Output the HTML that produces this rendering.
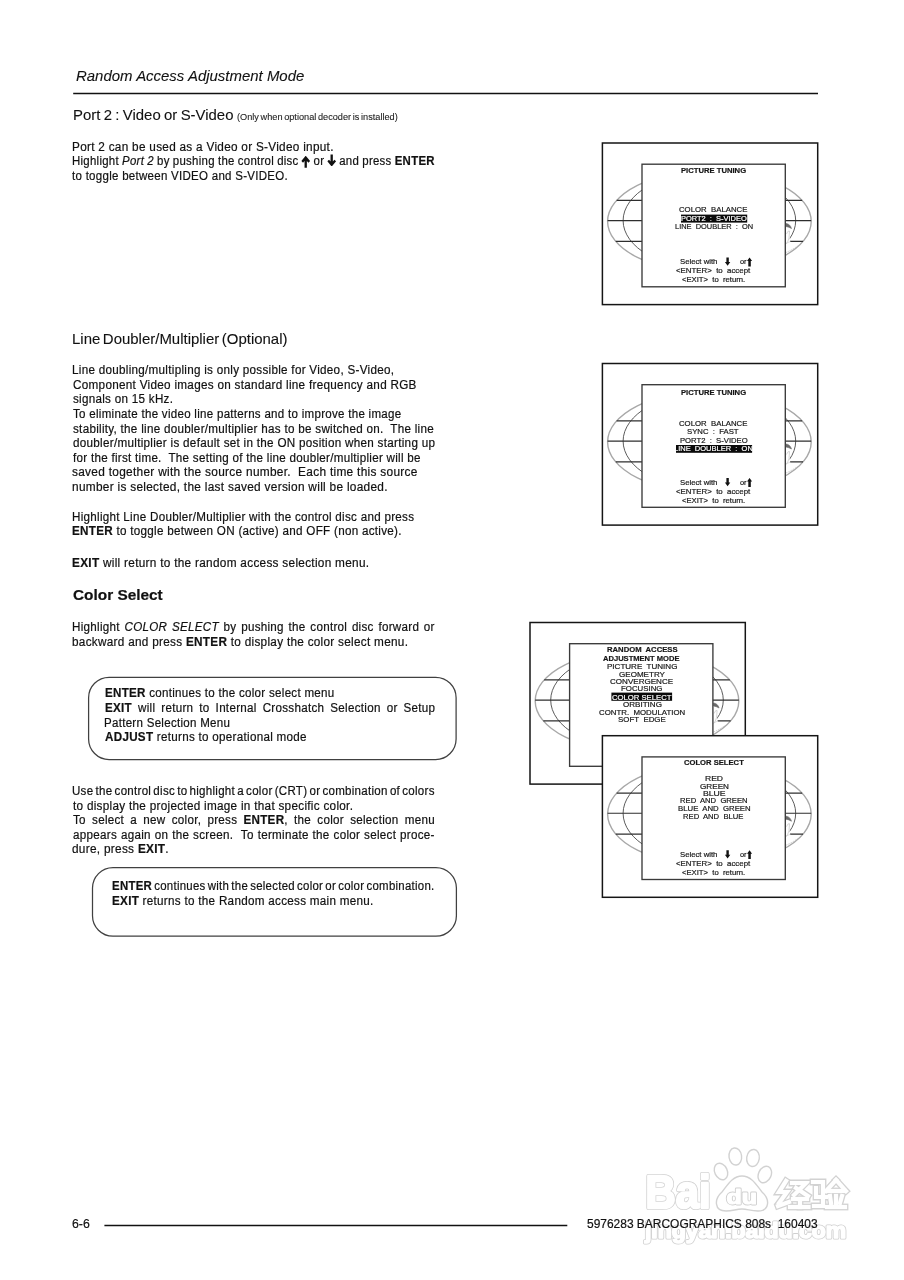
<!DOCTYPE html><html><head><meta charset="utf-8"><style>
html,body{margin:0;padding:0;background:#fff;}
body{width:904px;height:1280px;position:relative;overflow:hidden;font-family:"Liberation Sans",sans-serif;color:#111;}
.t{position:absolute;white-space:nowrap;line-height:1;transform-origin:0 0;-webkit-text-stroke-width:0.2px;}
.t b{font-weight:bold;}
.t i{font-style:italic;}
.ab{display:inline-block;width:9.3px;height:0;position:relative;}
svg.main{position:absolute;left:0;top:0;}
</style></head><body>
<svg class="main" width="904" height="1280">
<defs><filter id="wb" x="-5%" y="-5%" width="110%" height="110%"><feGaussianBlur stdDeviation="0.45"/></filter></defs><g filter="url(#wb)"><text x="645.5" y="1207.8" font-family="Liberation Sans" font-weight="bold" font-size="46" fill="#fff" stroke="#d0d0d0" stroke-width="4.2" stroke-linejoin="round" textLength="65" lengthAdjust="spacingAndGlyphs">Bai</text><text x="645.5" y="1207.8" font-family="Liberation Sans" font-weight="bold" font-size="46" fill="#fff" stroke="#fff" stroke-width="2.6" stroke-linejoin="round" textLength="65" lengthAdjust="spacingAndGlyphs">Bai</text>
<ellipse cx="721" cy="1171.5" rx="6.3" ry="8.6" transform="rotate(-25 721 1171.5)" fill="#fff" stroke="#d2d2d2" stroke-width="1.4" stroke-linejoin="round"/>
<ellipse cx="735.3" cy="1156.5" rx="6.3" ry="8.6" transform="rotate(-8 735.3 1156.5)" fill="#fff" stroke="#d2d2d2" stroke-width="1.4" stroke-linejoin="round"/>
<ellipse cx="753" cy="1158" rx="6.3" ry="8.6" transform="rotate(8 753 1158)" fill="#fff" stroke="#d2d2d2" stroke-width="1.4" stroke-linejoin="round"/>
<ellipse cx="764.8" cy="1174.5" rx="6.3" ry="8.6" transform="rotate(25 764.8 1174.5)" fill="#fff" stroke="#d2d2d2" stroke-width="1.4" stroke-linejoin="round"/>
<path d="M742,1176 C752,1176 757,1186 762,1192 C770,1199 770,1211 758,1211 C750,1211 748,1209 742,1209 C736,1209 733,1211 726,1211 C714,1211 714,1199 722,1192 C727,1186 732,1176 742,1176 Z" fill="#fff" stroke="#d2d2d2" stroke-width="1.4" stroke-linejoin="round"/>
<text x="726.5" y="1204" font-family="Liberation Sans" font-weight="bold" font-size="21" fill="#fff" stroke="#d0d0d0" stroke-width="2.8" stroke-linejoin="round" textLength="30.5" lengthAdjust="spacingAndGlyphs">du</text><text x="726.5" y="1204" font-family="Liberation Sans" font-weight="bold" font-size="21" fill="#fff" stroke="#fff" stroke-width="1.2" stroke-linejoin="round" textLength="30.5" lengthAdjust="spacingAndGlyphs">du</text>
<path d="M786,1181 L779,1192 L787,1192 L779,1203" fill="none" stroke="#d2d2d2" stroke-width="6.800000000000001" stroke-linecap="square" stroke-linejoin="miter"/>
<path d="M778,1206 L789,1202" fill="none" stroke="#d2d2d2" stroke-width="6.800000000000001" stroke-linecap="square" stroke-linejoin="miter"/>
<path d="M792,1183 L806,1183 L794,1195" fill="none" stroke="#d2d2d2" stroke-width="6.800000000000001" stroke-linecap="square" stroke-linejoin="miter"/>
<path d="M796,1188 L808,1196" fill="none" stroke="#d2d2d2" stroke-width="6.800000000000001" stroke-linecap="square" stroke-linejoin="miter"/>
<path d="M793,1199 L807,1199" fill="none" stroke="#d2d2d2" stroke-width="6.800000000000001" stroke-linecap="square" stroke-linejoin="miter"/>
<path d="M800,1199 L800,1207" fill="none" stroke="#d2d2d2" stroke-width="6.800000000000001" stroke-linecap="square" stroke-linejoin="miter"/>
<path d="M790,1207 L809,1207" fill="none" stroke="#d2d2d2" stroke-width="6.800000000000001" stroke-linecap="square" stroke-linejoin="miter"/>
<path d="M786,1181 L779,1192 L787,1192 L779,1203" fill="none" stroke="#fff" stroke-width="4.2" stroke-linecap="square" stroke-linejoin="miter"/>
<path d="M778,1206 L789,1202" fill="none" stroke="#fff" stroke-width="4.2" stroke-linecap="square" stroke-linejoin="miter"/>
<path d="M792,1183 L806,1183 L794,1195" fill="none" stroke="#fff" stroke-width="4.2" stroke-linecap="square" stroke-linejoin="miter"/>
<path d="M796,1188 L808,1196" fill="none" stroke="#fff" stroke-width="4.2" stroke-linecap="square" stroke-linejoin="miter"/>
<path d="M793,1199 L807,1199" fill="none" stroke="#fff" stroke-width="4.2" stroke-linecap="square" stroke-linejoin="miter"/>
<path d="M800,1199 L800,1207" fill="none" stroke="#fff" stroke-width="4.2" stroke-linecap="square" stroke-linejoin="miter"/>
<path d="M790,1207 L809,1207" fill="none" stroke="#fff" stroke-width="4.2" stroke-linecap="square" stroke-linejoin="miter"/>
<path d="M813,1182 L823,1182 L823,1206 L814,1206" fill="none" stroke="#d2d2d2" stroke-width="6.800000000000001" stroke-linecap="square" stroke-linejoin="miter"/>
<path d="M816,1188 L816,1197 L826,1197" fill="none" stroke="#d2d2d2" stroke-width="6.800000000000001" stroke-linecap="square" stroke-linejoin="miter"/>
<path d="M836,1180 L826,1191" fill="none" stroke="#d2d2d2" stroke-width="6.800000000000001" stroke-linecap="square" stroke-linejoin="miter"/>
<path d="M836,1180 L846,1191" fill="none" stroke="#d2d2d2" stroke-width="6.800000000000001" stroke-linecap="square" stroke-linejoin="miter"/>
<path d="M829,1191 L843,1191" fill="none" stroke="#d2d2d2" stroke-width="6.800000000000001" stroke-linecap="square" stroke-linejoin="miter"/>
<path d="M830,1196 L831,1203" fill="none" stroke="#d2d2d2" stroke-width="6.800000000000001" stroke-linecap="square" stroke-linejoin="miter"/>
<path d="M836,1196 L836,1203" fill="none" stroke="#d2d2d2" stroke-width="6.800000000000001" stroke-linecap="square" stroke-linejoin="miter"/>
<path d="M842,1196 L840,1203" fill="none" stroke="#d2d2d2" stroke-width="6.800000000000001" stroke-linecap="square" stroke-linejoin="miter"/>
<path d="M827,1207 L845,1207" fill="none" stroke="#d2d2d2" stroke-width="6.800000000000001" stroke-linecap="square" stroke-linejoin="miter"/>
<path d="M813,1182 L823,1182 L823,1206 L814,1206" fill="none" stroke="#fff" stroke-width="4.2" stroke-linecap="square" stroke-linejoin="miter"/>
<path d="M816,1188 L816,1197 L826,1197" fill="none" stroke="#fff" stroke-width="4.2" stroke-linecap="square" stroke-linejoin="miter"/>
<path d="M836,1180 L826,1191" fill="none" stroke="#fff" stroke-width="4.2" stroke-linecap="square" stroke-linejoin="miter"/>
<path d="M836,1180 L846,1191" fill="none" stroke="#fff" stroke-width="4.2" stroke-linecap="square" stroke-linejoin="miter"/>
<path d="M829,1191 L843,1191" fill="none" stroke="#fff" stroke-width="4.2" stroke-linecap="square" stroke-linejoin="miter"/>
<path d="M830,1196 L831,1203" fill="none" stroke="#fff" stroke-width="4.2" stroke-linecap="square" stroke-linejoin="miter"/>
<path d="M836,1196 L836,1203" fill="none" stroke="#fff" stroke-width="4.2" stroke-linecap="square" stroke-linejoin="miter"/>
<path d="M842,1196 L840,1203" fill="none" stroke="#fff" stroke-width="4.2" stroke-linecap="square" stroke-linejoin="miter"/>
<path d="M827,1207 L845,1207" fill="none" stroke="#fff" stroke-width="4.2" stroke-linecap="square" stroke-linejoin="miter"/>
<text x="645" y="1237.5" font-family="Liberation Sans" font-weight="bold" font-size="22" fill="#fff" stroke="#d0d0d0" stroke-width="3.2" stroke-linejoin="round" textLength="201" lengthAdjust="spacingAndGlyphs">jingyan.baidu.com</text><text x="645" y="1237.5" font-family="Liberation Sans" font-weight="bold" font-size="22" fill="#fff" stroke="#fff" stroke-width="1.6" stroke-linejoin="round" textLength="201" lengthAdjust="spacingAndGlyphs">jingyan.baidu.com</text></g>
<line x1="73.2" y1="93.5" x2="818" y2="93.5" stroke="#111" stroke-width="1.6"/>
<line x1="104.4" y1="1225.6" x2="567.3" y2="1225.6" stroke="#111" stroke-width="1.5"/>
<rect x="88.6" y="677.3" width="367.5" height="82.2" rx="20.5" ry="20.5" fill="none" stroke="#404040" stroke-width="1.25"/>
<rect x="92.5" y="867.6" width="363.9" height="68.6" rx="20.5" ry="20.5" fill="none" stroke="#404040" stroke-width="1.25"/>
<rect x="602.4" y="143.0" width="215.30000000000007" height="161.60000000000002" fill="#fff" stroke="#151515" stroke-width="1.5"/>
<ellipse cx="709.4" cy="221.4" rx="101.8" ry="51" fill="none" stroke="#a8a8a8" stroke-width="1.4"/>
<ellipse cx="709.4" cy="220.6" rx="86.3" ry="49" fill="none" stroke="#4a4a4a" stroke-width="0.9"/>
<line x1="616.63" y1="200.4" x2="802.17" y2="200.4" stroke="#2e2e2e" stroke-width="1.1"/>
<line x1="607.61" y1="220.6" x2="811.19" y2="220.6" stroke="#2e2e2e" stroke-width="1.1"/>
<line x1="615.75" y1="241.4" x2="803.05" y2="241.4" stroke="#2e2e2e" stroke-width="1.1"/>
<path d="M785,222 L789,223 Q792,226 791.5,229 L790,232 Q789,237 790.2,242.2 L785,252 Z" fill="#fff" stroke="none"/>
<path d="M786,223.5 Q790,223.8 791.5,228.5 Q789,227 786,226.5 Z" fill="#6a6a6a" stroke="#6a6a6a" stroke-width="0.6"/>
<path d="M786.5,234 Q788,230 789.5,231 L789,238 Q788,242 786,244" fill="none" stroke="#c4c4c4" stroke-width="0.7"/>
<path d="M786,252.5 Q792,250 797.5,246" fill="none" stroke="#b8b8b8" stroke-width="0.7" stroke-dasharray="1.6 0.9"/>
<path d="M786,243.5 L790.5,241.4" fill="none" stroke="#c8c8c8" stroke-width="0.6"/>
<rect x="642.0" y="164.2" width="143.29999999999995" height="122.60000000000002" fill="#fff" stroke="#3a3a3a" stroke-width="1.35"/>
<rect x="602.4" y="363.5" width="215.30000000000007" height="161.60000000000002" fill="#fff" stroke="#151515" stroke-width="1.5"/>
<ellipse cx="709.4" cy="441.9" rx="101.8" ry="51" fill="none" stroke="#a8a8a8" stroke-width="1.4"/>
<ellipse cx="709.4" cy="441.09999999999997" rx="86.3" ry="49" fill="none" stroke="#4a4a4a" stroke-width="0.9"/>
<line x1="616.63" y1="420.9" x2="802.17" y2="420.9" stroke="#2e2e2e" stroke-width="1.1"/>
<line x1="607.61" y1="441.1" x2="811.19" y2="441.1" stroke="#2e2e2e" stroke-width="1.1"/>
<line x1="615.75" y1="461.9" x2="803.05" y2="461.9" stroke="#2e2e2e" stroke-width="1.1"/>
<path d="M785,442.5 L789,443.5 Q792,446.5 791.5,449.5 L790,452.5 Q789,457.5 790.2,462.7 L785,472.5 Z" fill="#fff" stroke="none"/>
<path d="M786,444.0 Q790,444.3 791.5,449.0 Q789,447.5 786,447.0 Z" fill="#6a6a6a" stroke="#6a6a6a" stroke-width="0.6"/>
<path d="M786.5,454.5 Q788,450.5 789.5,451.5 L789,458.5 Q788,462.5 786,464.5" fill="none" stroke="#c4c4c4" stroke-width="0.7"/>
<path d="M786,473.0 Q792,470.5 797.5,466.5" fill="none" stroke="#b8b8b8" stroke-width="0.7" stroke-dasharray="1.6 0.9"/>
<path d="M786,464.0 L790.5,461.9" fill="none" stroke="#c8c8c8" stroke-width="0.6"/>
<rect x="642.0" y="384.7" width="143.29999999999995" height="122.60000000000002" fill="#fff" stroke="#3a3a3a" stroke-width="1.35"/>
<rect x="530.0" y="622.5" width="215.30000000000007" height="161.60000000000002" fill="#fff" stroke="#151515" stroke-width="1.5"/>
<ellipse cx="637.0" cy="700.9" rx="101.8" ry="51" fill="none" stroke="#a8a8a8" stroke-width="1.4"/>
<ellipse cx="637.0" cy="700.1" rx="86.3" ry="49" fill="none" stroke="#4a4a4a" stroke-width="0.9"/>
<line x1="544.23" y1="679.9" x2="729.77" y2="679.9" stroke="#2e2e2e" stroke-width="1.1"/>
<line x1="535.21" y1="700.1" x2="738.79" y2="700.1" stroke="#2e2e2e" stroke-width="1.1"/>
<line x1="543.35" y1="720.9" x2="730.65" y2="720.9" stroke="#2e2e2e" stroke-width="1.1"/>
<path d="M712.6,701.5 L716.6,702.5 Q719.6,705.5 719.1,708.5 L717.6,711.5 Q716.6,716.5 717.8000000000001,721.7 L712.6,731.5 Z" fill="#fff" stroke="none"/>
<path d="M713.6,703.0 Q717.6,703.3 719.1,708.0 Q716.6,706.5 713.6,706.0 Z" fill="#6a6a6a" stroke="#6a6a6a" stroke-width="0.6"/>
<path d="M714.1,713.5 Q715.6,709.5 717.1,710.5 L716.6,717.5 Q715.6,721.5 713.6,723.5" fill="none" stroke="#c4c4c4" stroke-width="0.7"/>
<path d="M713.6,732.0 Q719.6,729.5 725.1,725.5" fill="none" stroke="#b8b8b8" stroke-width="0.7" stroke-dasharray="1.6 0.9"/>
<path d="M713.6,723.0 L718.1,720.9" fill="none" stroke="#c8c8c8" stroke-width="0.6"/>
<rect x="569.6" y="643.7" width="143.29999999999995" height="122.59999999999991" fill="#fff" stroke="#3a3a3a" stroke-width="1.35"/>
</svg>
<svg class="main" width="904" height="1280">
<rect x="681.0" y="214.6" width="66.20000000000005" height="8.0" fill="#0a0a0a"/>
<rect x="676.0" y="445.0" width="76.10000000000002" height="7.800000000000011" fill="#0a0a0a"/>
<rect x="611.4" y="692.6" width="60.700000000000045" height="8.199999999999932" fill="#0a0a0a"/>
<path d="M726.4,257.5 h2.4 v4.6 h1.5 l-2.7,3.6 l-2.7,-3.6 h1.5 z" fill="#111"/><path d="M748.3,266.4 h2.5 v-5.3 h1.3 l-2.55,-3.6 l-2.55,3.6 h1.3 z" fill="#111"/>
<path d="M726.4,478.0 h2.4 v4.6 h1.5 l-2.7,3.6 l-2.7,-3.6 h1.5 z" fill="#111"/><path d="M748.3,486.9 h2.5 v-5.3 h1.3 l-2.55,-3.6 l-2.55,3.6 h1.3 z" fill="#111"/>
</svg>
<div class="t" id="t35" style="left:681.20px;top:167.20px;font-size:7.8px;font-weight:bold;color:#161616;-webkit-text-stroke-width:0.2px;left:680.83px;transform:scaleX(0.9821);word-spacing:0.000px;">PICTURE TUNING</div>
<div class="t" id="t36" style="left:679.80px;top:206.33px;font-size:8.0px;color:#161616;-webkit-text-stroke-width:0.2px;left:679.35px;transform:scaleX(0.9728);word-spacing:0.000px;">COLOR&nbsp; BALANCE</div>
<div class="t" id="t37" style="left:681.60px;top:214.93px;font-size:8.0px;color:#fff;-webkit-text-stroke-width:0.2px;left:681.31px;transform:scaleX(0.9315);word-spacing:0.000px;">PORT2&nbsp; :&nbsp; S-VIDEO</div>
<div class="t" id="t38" style="left:674.90px;top:223.43px;font-size:8.0px;color:#161616;-webkit-text-stroke-width:0.2px;left:674.53px;transform:scaleX(0.9309);word-spacing:0.000px;">LINE&nbsp; DOUBLER&nbsp; :&nbsp; ON</div>
<div class="t" id="t39" style="left:680.20px;top:258.13px;font-size:8.0px;color:#161616;-webkit-text-stroke-width:0.2px;left:679.81px;transform:scaleX(0.9660);word-spacing:0.000px;">Select with</div>
<div class="t" id="t40" style="left:739.70px;top:258.13px;font-size:8.0px;color:#161616;-webkit-text-stroke-width:0.2px;left:739.69px;transform:scaleX(0.9238);word-spacing:0.000px;">or</div>
<div class="t" id="t41" style="left:676.40px;top:267.03px;font-size:8.0px;color:#161616;-webkit-text-stroke-width:0.2px;left:675.71px;transform:scaleX(0.9819);word-spacing:0.000px;">&lt;ENTER&gt;&nbsp; to&nbsp; accept</div>
<div class="t" id="t42" style="left:682.00px;top:276.13px;font-size:8.0px;color:#161616;-webkit-text-stroke-width:0.2px;left:681.88px;transform:scaleX(0.9595);word-spacing:0.000px;">&lt;EXIT&gt;&nbsp; to&nbsp; return.</div>
<div class="t" id="t43" style="left:681.20px;top:388.50px;font-size:7.8px;font-weight:bold;color:#161616;-webkit-text-stroke-width:0.2px;left:680.83px;transform:scaleX(0.9821);word-spacing:0.000px;">PICTURE TUNING</div>
<div class="t" id="t44" style="left:679.80px;top:420.13px;font-size:8.0px;color:#161616;-webkit-text-stroke-width:0.2px;left:679.35px;transform:scaleX(0.9728);word-spacing:0.000px;">COLOR&nbsp; BALANCE</div>
<div class="t" id="t45" style="left:687.90px;top:428.43px;font-size:8.0px;color:#161616;-webkit-text-stroke-width:0.2px;left:687.06px;transform:scaleX(0.9660);word-spacing:0.000px;">SYNC&nbsp; :&nbsp; FAST</div>
<div class="t" id="t46" style="left:680.10px;top:436.63px;font-size:8.0px;color:#161616;-webkit-text-stroke-width:0.2px;left:679.73px;transform:scaleX(0.9597);word-spacing:0.000px;">PORT2&nbsp; :&nbsp; S-VIDEO</div>
<div class="t" id="t47" style="left:674.50px;top:445.03px;font-size:8.0px;color:#fff;-webkit-text-stroke-width:0.2px;left:673.74px;transform:scaleX(0.9382);word-spacing:0.000px;">LINE&nbsp; DOUBLER&nbsp; :&nbsp; ON</div>
<div class="t" id="t48" style="left:680.20px;top:478.63px;font-size:8.0px;color:#161616;-webkit-text-stroke-width:0.2px;left:679.81px;transform:scaleX(0.9660);word-spacing:0.000px;">Select with</div>
<div class="t" id="t49" style="left:739.70px;top:478.63px;font-size:8.0px;color:#161616;-webkit-text-stroke-width:0.2px;left:739.69px;transform:scaleX(0.9238);word-spacing:0.000px;">or</div>
<div class="t" id="t50" style="left:676.40px;top:487.53px;font-size:8.0px;color:#161616;-webkit-text-stroke-width:0.2px;left:675.71px;transform:scaleX(0.9819);word-spacing:0.000px;">&lt;ENTER&gt;&nbsp; to&nbsp; accept</div>
<div class="t" id="t51" style="left:682.00px;top:496.63px;font-size:8.0px;color:#161616;-webkit-text-stroke-width:0.2px;left:681.88px;transform:scaleX(0.9595);word-spacing:0.000px;">&lt;EXIT&gt;&nbsp; to&nbsp; return.</div>
<div class="t" id="t52" style="left:607.00px;top:646.00px;font-size:7.8px;font-weight:bold;color:#161616;-webkit-text-stroke-width:0.2px;left:606.52px;transform:scaleX(0.9852);word-spacing:0.000px;">RANDOM&nbsp; ACCESS</div>
<div class="t" id="t53" style="left:604.20px;top:655.30px;font-size:7.8px;font-weight:bold;color:#161616;-webkit-text-stroke-width:0.2px;left:603.47px;transform:scaleX(0.9703);word-spacing:0.000px;">ADJUSTMENT MODE</div>
<div class="t" id="t54" style="left:607.30px;top:663.03px;font-size:8.0px;color:#161616;-webkit-text-stroke-width:0.2px;left:607.03px;transform:scaleX(1.0046);word-spacing:0.000px;">PICTURE&nbsp; TUNING</div>
<div class="t" id="t55" style="left:619.70px;top:670.73px;font-size:8.0px;color:#161616;-webkit-text-stroke-width:0.2px;left:619.46px;transform:scaleX(1.0068);word-spacing:0.000px;">GEOMETRY</div>
<div class="t" id="t56" style="left:610.90px;top:678.13px;font-size:8.0px;color:#161616;-webkit-text-stroke-width:0.2px;left:610.08px;transform:scaleX(1.0071);word-spacing:0.000px;">CONVERGENCE</div>
<div class="t" id="t57" style="left:621.70px;top:685.43px;font-size:8.0px;color:#161616;-webkit-text-stroke-width:0.2px;left:620.97px;transform:scaleX(0.9819);word-spacing:0.000px;">FOCUSING</div>
<div class="t" id="t58" style="left:612.40px;top:693.63px;font-size:8.0px;color:#fff;-webkit-text-stroke-width:0.2px;left:612.13px;transform:scaleX(0.9615);word-spacing:0.000px;">COLOR SELECT</div>
<div class="t" id="t59" style="left:622.80px;top:700.93px;font-size:8.0px;color:#161616;-webkit-text-stroke-width:0.2px;left:622.68px;transform:scaleX(1.0061);word-spacing:0.000px;">ORBITING</div>
<div class="t" id="t60" style="left:599.60px;top:708.73px;font-size:8.0px;color:#161616;-webkit-text-stroke-width:0.2px;left:598.95px;transform:scaleX(0.9807);word-spacing:0.000px;">CONTR.&nbsp; MODULATION</div>
<div class="t" id="t61" style="left:618.70px;top:716.43px;font-size:8.0px;color:#161616;-webkit-text-stroke-width:0.2px;left:618.23px;transform:scaleX(0.9851);word-spacing:0.000px;">SOFT&nbsp; EDGE</div>
<svg class="main" width="904" height="1280">
<rect x="602.4" y="735.7" width="215.30000000000007" height="161.60000000000002" fill="#fff" stroke="#151515" stroke-width="1.5"/>
<ellipse cx="709.4" cy="814.1" rx="101.8" ry="51" fill="none" stroke="#a8a8a8" stroke-width="1.4"/>
<ellipse cx="709.4" cy="813.3000000000001" rx="86.3" ry="49" fill="none" stroke="#4a4a4a" stroke-width="0.9"/>
<line x1="616.63" y1="793.1" x2="802.17" y2="793.1" stroke="#2e2e2e" stroke-width="1.1"/>
<line x1="607.61" y1="813.3000000000001" x2="811.19" y2="813.3000000000001" stroke="#2e2e2e" stroke-width="1.1"/>
<line x1="615.75" y1="834.1" x2="803.05" y2="834.1" stroke="#2e2e2e" stroke-width="1.1"/>
<path d="M785,814.7 L789,815.7 Q792,818.7 791.5,821.7 L790,824.7 Q789,829.7 790.2,834.9000000000001 L785,844.7 Z" fill="#fff" stroke="none"/>
<path d="M786,816.2 Q790,816.5 791.5,821.2 Q789,819.7 786,819.2 Z" fill="#6a6a6a" stroke="#6a6a6a" stroke-width="0.6"/>
<path d="M786.5,826.7 Q788,822.7 789.5,823.7 L789,830.7 Q788,834.7 786,836.7" fill="none" stroke="#c4c4c4" stroke-width="0.7"/>
<path d="M786,845.2 Q792,842.7 797.5,838.7" fill="none" stroke="#b8b8b8" stroke-width="0.7" stroke-dasharray="1.6 0.9"/>
<path d="M786,836.2 L790.5,834.1" fill="none" stroke="#c8c8c8" stroke-width="0.6"/>
<rect x="642.0" y="756.9000000000001" width="143.29999999999995" height="122.59999999999991" fill="#fff" stroke="#3a3a3a" stroke-width="1.35"/>
<path d="M726.4,850.2 h2.4 v4.6 h1.5 l-2.7,3.6 l-2.7,-3.6 h1.5 z" fill="#111"/><path d="M748.3,859.1 h2.5 v-5.3 h1.3 l-2.55,-3.6 l-2.55,3.6 h1.3 z" fill="#111"/>
</svg>
<div class="t" id="t62" style="left:684.20px;top:759.30px;font-size:7.8px;font-weight:bold;color:#161616;-webkit-text-stroke-width:0.2px;left:683.86px;transform:scaleX(0.9789);word-spacing:0.000px;">COLOR SELECT</div>
<div class="t" id="t63" style="left:705.80px;top:774.93px;font-size:8.0px;color:#161616;-webkit-text-stroke-width:0.2px;left:705.03px;transform:scaleX(1.0680);word-spacing:0.000px;">RED</div>
<div class="t" id="t64" style="left:700.20px;top:782.53px;font-size:8.0px;color:#161616;-webkit-text-stroke-width:0.2px;left:699.97px;transform:scaleX(1.0172);word-spacing:0.000px;">GREEN</div>
<div class="t" id="t65" style="left:703.40px;top:789.83px;font-size:8.0px;color:#161616;-webkit-text-stroke-width:0.2px;left:702.97px;transform:scaleX(1.0840);word-spacing:0.000px;">BLUE</div>
<div class="t" id="t66" style="left:680.70px;top:797.43px;font-size:8.0px;color:#161616;-webkit-text-stroke-width:0.2px;left:679.99px;transform:scaleX(0.9561);word-spacing:0.000px;">RED&nbsp; AND&nbsp; GREEN</div>
<div class="t" id="t67" style="left:678.60px;top:805.03px;font-size:8.0px;color:#161616;-webkit-text-stroke-width:0.2px;left:678.23px;transform:scaleX(0.9731);word-spacing:0.000px;">BLUE&nbsp; AND&nbsp; GREEN</div>
<div class="t" id="t68" style="left:683.90px;top:812.63px;font-size:8.0px;color:#161616;-webkit-text-stroke-width:0.2px;left:683.41px;transform:scaleX(0.9561);word-spacing:0.000px;">RED&nbsp; AND&nbsp; BLUE</div>
<div class="t" id="t69" style="left:680.20px;top:850.83px;font-size:8.0px;color:#161616;-webkit-text-stroke-width:0.2px;left:679.81px;transform:scaleX(0.9660);word-spacing:0.000px;">Select with</div>
<div class="t" id="t70" style="left:739.70px;top:850.83px;font-size:8.0px;color:#161616;-webkit-text-stroke-width:0.2px;left:739.69px;transform:scaleX(0.9238);word-spacing:0.000px;">or</div>
<div class="t" id="t71" style="left:676.40px;top:859.73px;font-size:8.0px;color:#161616;-webkit-text-stroke-width:0.2px;left:675.71px;transform:scaleX(0.9819);word-spacing:0.000px;">&lt;ENTER&gt;&nbsp; to&nbsp; accept</div>
<div class="t" id="t72" style="left:682.00px;top:868.83px;font-size:8.0px;color:#161616;-webkit-text-stroke-width:0.2px;left:681.88px;transform:scaleX(0.9595);word-spacing:0.000px;">&lt;EXIT&gt;&nbsp; to&nbsp; return.</div>
<div class="t" id="t0" style="left:76.30px;top:68.20px;font-size:15px;-webkit-text-stroke-width:0.1px;left:75.62px;transform:scaleX(0.9970);word-spacing:0.000px;"><i>Random Access Adjustment Mode</i></div>
<div class="t" id="t1" style="left:74.40px;top:107.20px;font-size:15px;-webkit-text-stroke-width:0.1px;left:72.91px;transform:scaleX(0.9942);word-spacing:-0.800px;">Port 2 : Video or S-Video</div>
<div class="t" id="t2" style="left:236.80px;top:111.96px;font-size:9.5px;-webkit-text-stroke-width:0.1px;color:#222;left:236.65px;transform:scaleX(0.9648);word-spacing:-0.900px;">(Only when optional decoder is installed)</div>
<div class="t" id="t3" style="left:73.20px;top:140.79px;font-size:12.3px;letter-spacing:0.3px;left:71.89px;transform:scaleX(0.9571);word-spacing:0.000px;">Port 2 can be used as a Video or S-Video input.</div>
<div class="t" id="t4" style="left:73.20px;top:155.39px;font-size:12.3px;letter-spacing:0.3px;left:72.28px;transform:scaleX(0.9278);word-spacing:-0.300px;">Highlight <i>Port 2</i> by pushing the control disc <span class="ab"><svg width="10" height="12" viewBox="0 0 10 12" style="position:absolute;left:-0.3px;top:-9.4px"><path d="M4.9,1.3 L4.9,11.8 M1.1,5.8 L4.9,1.6 L8.7,5.8" fill="none" stroke="#111" stroke-width="2.5" stroke-linejoin="miter" stroke-miterlimit="3"/></svg></span> or <span class="ab"><svg width="10" height="12" viewBox="0 0 10 12" style="position:absolute;left:-0.3px;top:-11.4px"><path d="M4.9,0.5 L4.9,11 M1.1,6.5 L4.9,10.7 L8.7,6.5" fill="none" stroke="#111" stroke-width="2.5" stroke-linejoin="miter" stroke-miterlimit="3"/></svg></span> and press <b>ENTER</b></div>
<div class="t" id="t5" style="left:73.20px;top:169.99px;font-size:12.3px;letter-spacing:0.3px;left:72.43px;transform:scaleX(0.9354);word-spacing:0.000px;">to toggle between VIDEO and S-VIDEO.</div>
<div class="t" id="t6" style="left:73.20px;top:331.10px;font-size:15px;-webkit-text-stroke-width:0.1px;left:71.92px;transform:scaleX(0.9972);word-spacing:-1.600px;">Line Doubler/Multiplier (Optional)</div>
<div class="t" id="t7" style="left:73.20px;top:364.19px;font-size:12.3px;letter-spacing:0.3px;left:71.93px;transform:scaleX(0.9482);word-spacing:0.000px;">Line doubling/multipling is only possible for Video, S-Video,</div>
<div class="t" id="t8" style="left:73.20px;top:378.79px;font-size:12.3px;letter-spacing:0.3px;left:72.91px;transform:scaleX(0.9529);word-spacing:0.000px;">Component Video images on standard line frequency and RGB</div>
<div class="t" id="t9" style="left:73.20px;top:393.39px;font-size:12.3px;letter-spacing:0.3px;left:72.67px;transform:scaleX(0.9462);word-spacing:0.000px;">signals on 15 kHz.</div>
<div class="t" id="t10" style="left:73.20px;top:407.99px;font-size:12.3px;letter-spacing:0.3px;left:72.81px;transform:scaleX(0.9389);word-spacing:0.000px;">To eliminate the video line patterns and to improve the image</div>
<div class="t" id="t11" style="left:73.20px;top:422.59px;font-size:12.3px;letter-spacing:0.3px;left:72.67px;transform:scaleX(0.9474);word-spacing:0.000px;">stability, the line doubler/multiplier has to be switched on.&nbsp; The line</div>
<div class="t" id="t12" style="left:73.20px;top:437.19px;font-size:12.3px;letter-spacing:0.3px;left:72.50px;transform:scaleX(0.9493);word-spacing:0.000px;">doubler/multiplier is default set in the ON position when starting up</div>
<div class="t" id="t13" style="left:73.20px;top:451.79px;font-size:12.3px;letter-spacing:0.3px;left:72.54px;transform:scaleX(0.9444);word-spacing:0.000px;">for the first time.&nbsp; The setting of the line doubler/multiplier will be</div>
<div class="t" id="t14" style="left:73.20px;top:466.39px;font-size:12.3px;letter-spacing:0.3px;left:72.41px;transform:scaleX(0.9656);word-spacing:0.000px;">saved together with the source number.&nbsp; Each time this source</div>
<div class="t" id="t15" style="left:73.20px;top:480.99px;font-size:12.3px;letter-spacing:0.3px;left:72.40px;transform:scaleX(0.9636);word-spacing:0.000px;">number is selected, the last saved version will be loaded.</div>
<div class="t" id="t16" style="left:73.20px;top:510.79px;font-size:12.3px;letter-spacing:0.3px;left:71.96px;transform:scaleX(0.9458);word-spacing:0.000px;">Highlight Line Doubler/Multiplier with the control disc and press</div>
<div class="t" id="t17" style="left:73.20px;top:525.39px;font-size:12.3px;letter-spacing:0.3px;left:72.47px;transform:scaleX(0.9480);word-spacing:0.000px;"><b>ENTER</b> to toggle between ON (active) and OFF (non active).</div>
<div class="t" id="t18" style="left:73.20px;top:556.79px;font-size:12.3px;letter-spacing:0.3px;left:72.44px;transform:scaleX(0.9598);word-spacing:0.000px;"><b>EXIT</b> will return to the random access selection menu.</div>
<div class="t" id="t19" style="left:73.20px;top:587.30px;font-size:15px;left:72.50px;transform:scaleX(1.0250);word-spacing:0.000px;"><b>Color Select</b></div>
<div class="t" id="t20" style="left:73.20px;top:621.39px;font-size:12.3px;letter-spacing:0.3px;left:71.96px;transform:scaleX(0.9450);word-spacing:1.279px;">Highlight <i>COLOR SELECT</i> by pushing the control disc forward or</div>
<div class="t" id="t21" style="left:73.20px;top:635.99px;font-size:12.3px;letter-spacing:0.3px;left:72.47px;transform:scaleX(0.9561);word-spacing:0.000px;">backward and press <b>ENTER</b> to display the color select menu.</div>
<div class="t" id="t22" style="left:105.20px;top:687.49px;font-size:12.3px;letter-spacing:0.3px;left:104.87px;transform:scaleX(0.9418);word-spacing:0.000px;"><b>ENTER</b> continues to the color select menu</div>
<div class="t" id="t23" style="left:105.20px;top:702.19px;font-size:12.3px;letter-spacing:0.3px;left:104.87px;transform:scaleX(0.9450);word-spacing:2.646px;"><b>EXIT</b> will return to Internal Crosshatch Selection or Setup</div>
<div class="t" id="t24" style="left:105.20px;top:716.89px;font-size:12.3px;letter-spacing:0.3px;left:104.47px;transform:scaleX(0.9386);word-spacing:0.000px;">Pattern Selection Menu</div>
<div class="t" id="t25" style="left:105.20px;top:731.49px;font-size:12.3px;letter-spacing:0.3px;left:104.78px;transform:scaleX(0.9466);word-spacing:0.000px;"><b>ADJUST</b> returns to operational mode</div>
<div class="t" id="t26" style="left:73.20px;top:784.99px;font-size:12.3px;letter-spacing:0.3px;left:72.16px;transform:scaleX(0.9382);word-spacing:-1.400px;">Use the control disc to highlight a color (CRT) or combination of colors</div>
<div class="t" id="t27" style="left:73.20px;top:799.59px;font-size:12.3px;letter-spacing:0.3px;left:72.53px;transform:scaleX(0.9539);word-spacing:0.000px;">to display the projected image in that specific color.</div>
<div class="t" id="t28" style="left:73.20px;top:814.19px;font-size:12.3px;letter-spacing:0.3px;left:72.85px;transform:scaleX(0.9450);word-spacing:2.876px;">To select a new color, press <b>ENTER</b>, the color selection menu</div>
<div class="t" id="t29" style="left:73.20px;top:828.79px;font-size:12.3px;letter-spacing:0.3px;left:72.64px;transform:scaleX(0.9450);word-spacing:0.457px;">appears again on the screen.&nbsp; To terminate the color select proce-</div>
<div class="t" id="t30" style="left:73.20px;top:843.39px;font-size:12.3px;letter-spacing:0.3px;left:72.42px;transform:scaleX(0.9613);word-spacing:0.000px;">dure, press <b>EXIT</b>.</div>
<div class="t" id="t31" style="left:112.70px;top:880.49px;font-size:12.3px;letter-spacing:0.3px;left:112.37px;transform:scaleX(0.9282);word-spacing:-1.400px;"><b>ENTER</b> continues with the selected color or color combination.</div>
<div class="t" id="t32" style="left:112.70px;top:894.59px;font-size:12.3px;letter-spacing:0.3px;left:112.34px;transform:scaleX(0.9491);word-spacing:0.000px;"><b>EXIT</b> returns to the Random access main menu.</div>
<div class="t" id="t33" style="left:72.70px;top:1217.79px;font-size:12.3px;left:72.34px;transform:scaleX(0.9976);word-spacing:0.000px;">6-6</div>
<div class="t" id="t34" style="left:587.20px;top:1217.79px;font-size:12.3px;left:586.70px;transform:scaleX(0.9722);word-spacing:0.000px;">5976283 BARCOGRAPHICS 808s&nbsp; 160403</div>
</body></html>
